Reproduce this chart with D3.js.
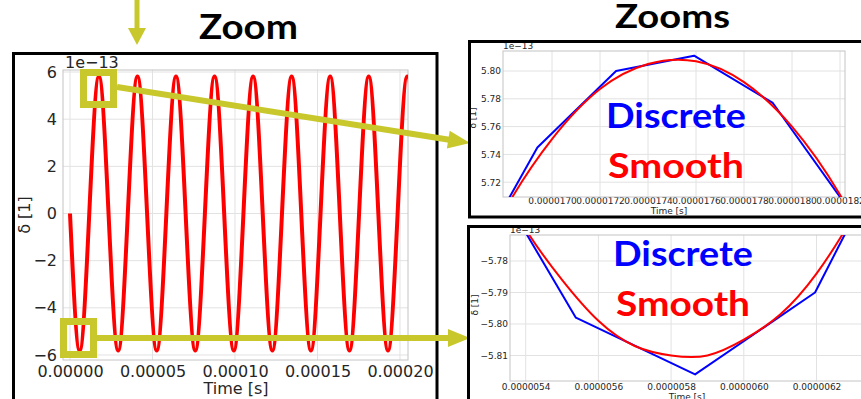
<!DOCTYPE html>
<html>
<head>
<meta charset="utf-8">
<script src="https://cdn.jsdelivr.net/npm/d3@7"></script>
<style>
  body { margin: 0; background: #fff; }
  svg { display: block; }
</style>
</head>
<body>
<div id="chart"></div>
<script>
// Full run: delta [1e-13] against time [s]
const mainTime = [0, 5.84e-6, 11.68e-6, 17.52e-6, 23.36e-6, 29.20e-6, 35.04e-6, 40.88e-6,
  46.72e-6, 52.56e-6, 58.40e-6, 64.24e-6, 70.08e-6, 75.92e-6, 81.76e-6, 87.60e-6,
  93.44e-6, 99.28e-6, 105.12e-6, 110.96e-6, 116.80e-6, 122.64e-6, 128.48e-6, 134.32e-6,
  140.16e-6, 146.00e-6, 151.84e-6, 157.68e-6, 163.52e-6, 169.36e-6, 175.20e-6, 181.04e-6,
  186.88e-6, 192.72e-6, 198.56e-6, 204.40e-6, 210.24e-6];
const mainDelta = [0, -5.81, 0, 5.81, 0, -5.81, 0, 5.81,
  0, -5.81, 0, 5.81, 0, -5.81, 0, 5.81,
  0, -5.81, 0, 5.81, 0, -5.81, 0, 5.81,
  0, -5.81, 0, 5.81, 0, -5.81, 0, 5.81,
  0, -5.81, 0, 5.81, 0];
const mainXTicks = [0, 0.00005, 0.0001, 0.00015, 0.0002];
const mainYTicks = [-6, -4, -2, 0, 2, 4, 6];

// Zoom on the first peak
const peakDiscreteTime = [1.6612e-5, 1.6939e-5, 1.7267e-5, 1.7592e-5, 1.7920e-5, 1.8247e-5];
const peakDiscreteDelta = [5.644, 5.745, 5.800, 5.811, 5.777, 5.698];
const peakSmoothTime = [1.66e-5, 1.68e-5, 1.70e-5, 1.72e-5, 1.74e-5, 1.76e-5, 1.78e-5, 1.80e-5, 1.82e-5, 1.84e-5];
const peakSmoothDelta = [5.631, 5.699, 5.751, 5.787, 5.805, 5.807, 5.792, 5.760, 5.711, 5.646];
const peakXTicks = [1.70e-5, 1.72e-5, 1.74e-5, 1.76e-5, 1.78e-5, 1.80e-5, 1.82e-5];
const peakYTicks = [5.72, 5.74, 5.76, 5.78, 5.80];

// Zoom on the first trough
const troughDiscreteTime = [5.211e-6, 5.538e-6, 5.866e-6, 6.196e-6, 6.525e-6];
const troughDiscreteDelta = [-5.734, -5.798, -5.816, -5.790, -5.716];
const troughSmoothTime = [5.3e-6, 5.4e-6, 5.5e-6, 5.6e-6, 5.7e-6, 5.8e-6, 5.9e-6, 6.0e-6, 6.1e-6, 6.2e-6, 6.3e-6, 6.4e-6];
const troughSmoothDelta = [-5.750, -5.770, -5.786, -5.799, -5.807, -5.810, -5.810, -5.805, -5.797, -5.784, -5.766, -5.745];
const troughXTicks = [5.4e-6, 5.6e-6, 5.8e-6, 6.0e-6, 6.2e-6];
const troughYTicks = [-5.81, -5.80, -5.79, -5.78];

const YELLOW = "#c8c82c";
const PLOT_FONT = "DejaVu Sans, sans-serif";
const SLIDE_FONT = "Lato, 'Open Sans', sans-serif";

const svg = d3.select("#chart").append("svg")
  .attr("width", 861)
  .attr("height", 399)
  .style("background", "#fff");

let clipCount = 0;

// one matplotlib-looking axes box
function drawPanel(p) {
  const g = svg.append("g");
  const x = d3.scaleLinear().domain(p.xDomain).range([p.left, p.right]);
  const y = d3.scaleLinear().domain(p.yDomain).range([p.bottom, p.top]);

  const clipId = "clip" + (clipCount++);
  svg.append("clipPath").attr("id", clipId)
    .append("rect")
      .attr("x", p.left).attr("y", p.top)
      .attr("width", p.right - p.left).attr("height", p.bottom - p.top);

  // grid
  g.selectAll(".vgrid").data(p.xTicks).enter().append("line")
    .attr("x1", d => x(d)).attr("x2", d => x(d))
    .attr("y1", p.top).attr("y2", p.bottom)
    .attr("stroke", "#e2e2e2").attr("stroke-width", 1);
  g.selectAll(".hgrid").data(p.yTicks).enter().append("line")
    .attr("x1", p.left).attr("x2", p.right)
    .attr("y1", d => y(d)).attr("y2", d => y(d))
    .attr("stroke", "#e2e2e2").attr("stroke-width", 1);

  // axes
  const xAxis = g.append("g")
    .attr("transform", "translate(0," + p.bottom + ")")
    .call(d3.axisBottom(x).tickValues(p.xTicks).tickFormat(d3.format(p.xFormat))
      .tickSize(0).tickPadding(p.xPad));
  const yAxis = g.append("g")
    .attr("transform", "translate(" + p.left + ",0)")
    .call(d3.axisLeft(y).tickValues(p.yTicks).tickFormat(d3.format(p.yFormat))
      .tickSize(0).tickPadding(p.yPad));
  [xAxis, yAxis].forEach(a => {
    a.select(".domain").remove();
    a.selectAll("text")
      .style("font-family", PLOT_FONT)
      .style("font-size", p.fontSize + "px")
      .attr("fill", "#262626");
  });

  // spines
  g.append("rect")
    .attr("x", p.left).attr("y", p.top)
    .attr("width", p.right - p.left).attr("height", p.bottom - p.top)
    .attr("fill", "none").attr("stroke", "#c4c4c4").attr("stroke-width", 1);

  // series
  p.series.forEach(s => {
    g.append("path")
      .datum(d3.zip(s.time, s.delta))
      .attr("clip-path", "url(#" + clipId + ")")
      .attr("fill", "none")
      .attr("stroke", s.color)
      .attr("stroke-width", s.width)
      .attr("stroke-linejoin", "round")
      .attr("d", d3.line().x(d => x(d[0])).y(d => y(d[1])).curve(s.curve));
  });

  // labels
  g.append("text")
    .attr("x", (p.left + p.right) / 2 + p.xLabelShift).attr("y", p.xLabelY)
    .attr("text-anchor", "middle")
    .style("font-family", PLOT_FONT).style("font-size", p.fontSize + "px")
    .attr("fill", "#262626")
    .text("Time [s]");
  g.append("text")
    .attr("transform", "translate(" + p.yLabelX + "," + p.yLabelY + ") rotate(-90)")
    .attr("text-anchor", "middle")
    .style("font-family", PLOT_FONT).style("font-size", p.fontSize + "px")
    .attr("fill", "#262626")
    .text("δ [1]");
  g.append("text")
    .attr("x", p.left + p.offsetShift).attr("y", p.offsetY)
    .style("font-family", PLOT_FONT).style("font-size", p.fontSize + "px")
    .attr("fill", "#262626")
    .text("1e\u221213");
}

// black box around a figure
function frame(x0, y0, x1, y1) {
  svg.append("rect")
    .attr("x", x0).attr("y", y0)
    .attr("width", x1 - x0).attr("height", y1 - y0)
    .attr("fill", "none").attr("stroke", "#000").attr("stroke-width", 3);
}

// yellow annotation arrow, head drawn as a triangle
function arrow(x0, y0, x1, y1, width, headLen, headHalf) {
  const dx = x1 - x0, dy = y1 - y0;
  const len = Math.sqrt(dx * dx + dy * dy);
  const ux = dx / len, uy = dy / len;
  const bx = x1 - ux * headLen, by = y1 - uy * headLen;
  svg.append("line")
    .attr("x1", x0).attr("y1", y0).attr("x2", bx + ux).attr("y2", by + uy)
    .attr("stroke", YELLOW).attr("stroke-width", width);
  svg.append("polygon")
    .attr("points", [[x1, y1], [bx - uy * headHalf, by + ux * headHalf], [bx + uy * headHalf, by - ux * headHalf]].join(" "))
    .attr("fill", YELLOW);
}

// slide text (bold), squeezed/stretched to the width it has on the slide
function slideText(x, y, txt, size, width, color) {
  svg.append("text")
    .attr("x", x).attr("y", y)
    .attr("text-anchor", "middle")
    .attr("textLength", width).attr("lengthAdjust", "spacingAndGlyphs")
    .style("font-family", SLIDE_FONT).style("font-weight", 700).style("font-size", size + "px")
    .attr("fill", color)
    .text(txt);
}

// main figure
drawPanel({
  left: 63, right: 408, top: 70, bottom: 360,
  xDomain: [-4.24e-6, 2.0485e-4], yDomain: [-6.213, 6.086],
  xTicks: mainXTicks, yTicks: mainYTicks, xFormat: ".5f", yFormat: "d",
  xPad: 6, yPad: 6, fontSize: 16,
  xLabelShift: 0.5, xLabelY: 394, yLabelX: 30, yLabelY: 215,
  offsetShift: 2, offsetY: 68,
  series: [{ time: mainTime, delta: mainDelta, color: "#ff0000", width: 4, curve: d3.curveNatural }]
});
frame(13.5, 53.5, 437, 420);

// zoom on the peak
drawPanel({
  left: 503, right: 845, top: 51, bottom: 197,
  xDomain: [1.67958e-5, 1.82208e-5], yDomain: [5.70935, 5.81439],
  xTicks: peakXTicks, yTicks: peakYTicks, xFormat: ".7f", yFormat: ".2f",
  xPad: 1, yPad: 2, fontSize: 9,
  xLabelShift: -5, xLabelY: 214, yLabelX: 476, yLabelY: 118,
  offsetShift: 0, offsetY: 49,
  series: [
    { time: peakDiscreteTime, delta: peakDiscreteDelta, color: "#0000ff", width: 2, curve: d3.curveLinear },
    { time: peakSmoothTime, delta: peakSmoothDelta, color: "#ff0000", width: 2, curve: d3.curveNatural }
  ]
});

// zoom on the trough
drawPanel({
  left: 510, right: 880, top: 235, bottom: 381,
  xDomain: [5.3568e-6, 6.3747e-6], yDomain: [-5.8181, -5.77175],
  xTicks: troughXTicks, yTicks: troughYTicks, xFormat: ".7f", yFormat: ".2f",
  xPad: 3, yPad: 2, fontSize: 9,
  xLabelShift: -8, xLabelY: 400, yLabelX: 478, yLabelY: 305,
  offsetShift: 0, offsetY: 233,
  series: [
    { time: troughDiscreteTime, delta: troughDiscreteDelta, color: "#0000ff", width: 2, curve: d3.curveLinear },
    { time: troughSmoothTime, delta: troughSmoothDelta, color: "#ff0000", width: 2, curve: d3.curveNatural }
  ]
});

// Discrete / Smooth captions
slideText(676, 128, "Discrete", 35, 140, "#0000ff");
slideText(676, 178, "Smooth", 35, 136, "#ff0000");
slideText(683, 266, "Discrete", 35, 140, "#0000ff");
slideText(683, 316, "Smooth", 35, 134, "#ff0000");

// titles
slideText(248.5, 39, "Zoom", 33.5, 99, "#000");
slideText(672.5, 28, "Zooms", 32, 115, "#000");

// yellow markers
svg.append("rect")
  .attr("x", 83.5).attr("y", 72.5).attr("width", 30).attr("height", 32)
  .attr("fill", "none").attr("stroke", YELLOW).attr("stroke-width", 7);
svg.append("rect")
  .attr("x", 63.5).attr("y", 321.5).attr("width", 30).attr("height", 33)
  .attr("fill", "none").attr("stroke", YELLOW).attr("stroke-width", 7);
arrow(117, 87, 470, 143, 6, 22, 9);
arrow(97, 338, 470, 338, 6, 22, 9);
arrow(137, -2, 137, 45, 5, 17, 9);

// right-hand frames
frame(469.5, 41.5, 900, 217);
frame(468.5, 226.5, 900, 420);
</script>
</body>
</html>
